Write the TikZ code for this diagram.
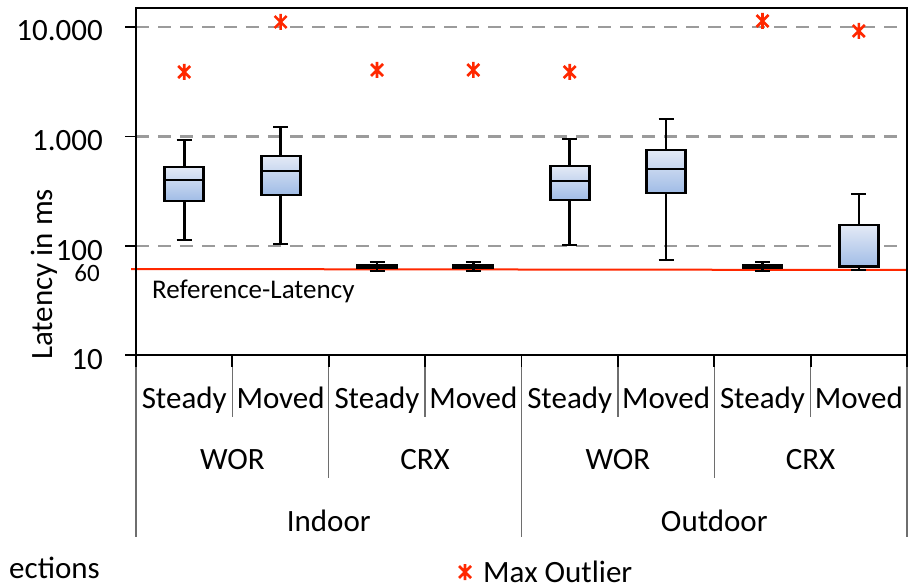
\documentclass[tikz,border=0pt]{standalone}
\usepackage{fontspec}
\setmainfont{Carlito}
\definecolor{outred}{RGB}{255,40,0}
\definecolor{gridgray}{RGB}{155,155,155}
\definecolor{divgray}{RGB}{110,110,110}
\definecolor{boxtop}{RGB}{228,234,246}
\definecolor{boxbot}{RGB}{160,188,230}
\tikzset{
  gridline/.style={draw=gridgray, line width=2.1pt, dash pattern=on 13pt off 9pt},
  frame/.style={draw=black, line width=1.8pt},
  divider/.style={draw=divgray, line width=1.4pt},
  refline/.style={draw=outred, line width=2pt},
  whisk/.style={draw=black, line width=2.6pt},
  boxst/.style={draw=black, line width=2.8pt, top color=boxtop, bottom color=boxbot},
  lbl/.style={inner sep=0pt, font=\fontsize{31}{36}\selectfont},
  outl/.pic={\draw[outred, line width=2.6pt] (0,-8) -- (0,8) (-6,-6) -- (6,6) (-6,6) -- (6,-6);}
}
% box plot: centre x, whisker top, Q3, median, Q1, whisker bottom
\newcommand\bxplot[6]{
  \draw[whisk] (#1,#2) -- (#1,#3) (#1,#5) -- (#1,#6);
  \draw[whisk] (#1-7.5,#2) -- (#1+7.5,#2) (#1-7.5,#6) -- (#1+7.5,#6);
  \draw[boxst] (#1-19.5,#3) rectangle (#1+19.5,#5);
  \draw[whisk] (#1-19.5,#4) -- (#1+19.5,#4);
}
\begin{document}
\begin{tikzpicture}[x=1pt,y=-1pt]
\useasboundingbox (0,0) rectangle (912,588);

% horizontal grid at 10.000, 1.000 and 100
\foreach \gy in {27,136.5,246} \draw[gridline] (136,\gy) -- (907,\gy);

% reference latency (60 ms)
\draw[refline] (131,269) -- (907,270);

% frame and y ticks
\draw[frame] (136,8) rectangle (907,355);
\foreach \gy in {27,136.5,246,355} \draw[frame] (125,\gy) -- (136,\gy);

% y tick labels
\node[lbl, anchor=base east] (y10k) at (103,41) {10.000};
\node[lbl, anchor=base east] (y1k)  at (103,150.5) {1.000};
\node[lbl, anchor=base east] (y100) at (103,260) {100};
\node[inner sep=0pt, font=\fontsize{25}{30}\selectfont, anchor=base east] (y60) at (100,281.5) {60};
\node[lbl, anchor=base east] (y10)  at (103,369) {10};

% axis title
\node[lbl, rotate=90, anchor=base west] (ytitle) at (52,360) {Latency in ms};

\node[inner sep=0pt, font=\fontsize{27}{32}\selectfont, anchor=base west] (reflbl) at (152,298) {Reference-Latency};

% boxes
\bxplot{184.2}{140}{167}{180}{201}{240}
\bxplot{280.6}{127}{156}{171}{195}{244}
\bxplot{377.0}{262}{265}{266.5}{268}{271}
\bxplot{473.3}{262}{265}{266.5}{268}{271}
\bxplot{569.7}{139}{166}{181}{200}{245}
\bxplot{666.1}{119}{150}{169}{193}{260}
\bxplot{762.5}{262}{265}{266.5}{268}{271}
\bxplot{858.8}{194}{225}{266}{267}{270}

% maximum outliers
\pic at (184.2,72) {outl};
\pic at (280.6,22) {outl};
\pic at (377.0,70) {outl};
\pic at (473.3,70) {outl};
\pic at (569.7,72) {outl};
\pic at (762.5,21) {outl};
\pic at (858.8,31) {outl};

% category axis: ticks and group dividers
\foreach \i in {0,...,8} {
  \pgfmathsetmacro\tx{136+96.375*\i}
  \draw[frame] (\tx,355) -- (\tx,367);
}
\foreach \i in {1,3,5,7} {
  \pgfmathsetmacro\tx{136+96.375*\i}
  \draw[divider] (\tx,367) -- (\tx,417);
}
\foreach \i in {2,6} {
  \pgfmathsetmacro\tx{136+96.375*\i}
  \draw[divider] (\tx,367) -- (\tx,478);
}
\foreach \i in {0,4,8} {
  \pgfmathsetmacro\tx{136+96.375*\i}
  \draw[divider] (\tx,367) -- (\tx,537);
}

% category labels
\foreach \i/\t in {0/Steady,1/Moved,2/Steady,3/Moved,4/Steady,5/Moved,6/Steady,7/Moved} {
  \node[lbl, anchor=base] (c\i) at (184.2+96.375*\i,408) {\t};
}
\node[lbl, anchor=base] (wor1) at (232.4,469) {WOR};
\node[lbl, anchor=base] (crx1) at (425.1,469) {CRX};
\node[lbl, anchor=base] (wor2) at (617.9,469) {WOR};
\node[lbl, anchor=base] (crx2) at (810.6,469) {CRX};
\node[lbl, anchor=base] (indoor) at (328.8,531) {Indoor};
\node[lbl, anchor=base] (outdoor) at (714.3,531) {Outdoor};

% legend
\node[lbl, anchor=base east] (legconn) at (100,578) {ections};
\pic at (465,572) {outl};
\node[lbl, anchor=base west] (legout) at (483,582) {Max Outlier};
\end{tikzpicture}
\end{document}
